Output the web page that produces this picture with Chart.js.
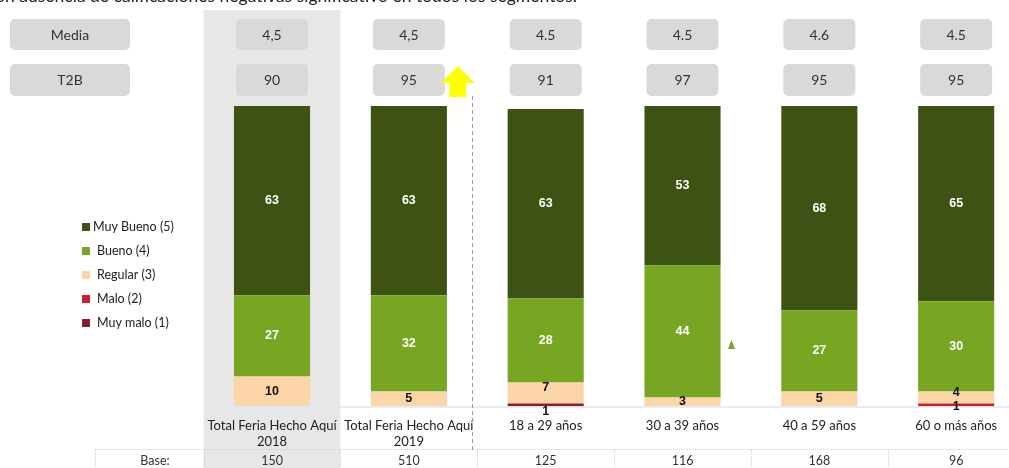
<!DOCTYPE html>
<html><head><meta charset="utf-8">
<script src="https://cdn.jsdelivr.net/npm/chart.js@4"></script>
<style>html,body{margin:0;padding:0;overflow:hidden;background:#fff;width:1009px;height:468px}canvas{display:block}</style>
</head><body>
<canvas id="c" width="1030" height="468" style="width:1030px;height:468px"></canvas>
<script>
const categories = [["Total Feria Hecho Aquí","2018"],["Total Feria Hecho Aquí","2019"],"18 a 29 años","30 a 39 años","40 a 59 años","60 o más años"];
const muyBueno = [63,63,63,53,68,65];
const bueno = [27,32,28,44,27,30];
const regular = [10,5,7,3,5,4];
const malo = [0,0,0,0,0,1];
const muyMalo = [0,0,1,0,0,0];
const media = ["4,5","4,5","4.5","4.5","4.6","4.5"];
const t2b = ["90","95","91","97","95","95"];
const base = ["150","510","125","116","168","96"];
const seriesNames = ["Muy Bueno (5)","Bueno (4)","Regular (3)","Malo (2)","Muy malo (1)"];
const titleText = "Con ausencia de calificaciones negativas significativo en todos los segmentos.";

const COL = {mb:"#3D5213", b:"#77A623", r:"#FCD5A9", m:"#C9202F", mm:"#8E1B2C"};
const FONT = "Lato, 'Open Sans', sans-serif";

function rrect(ctx,x,y,w,h,r){ctx.beginPath();ctx.moveTo(x+r,y);ctx.arcTo(x+w,y,x+w,y+h,r);ctx.arcTo(x+w,y+h,x,y+h,r);ctx.arcTo(x,y+h,x,y,r);ctx.arcTo(x,y,x+w,y,r);ctx.closePath();}

const deco = {
  id:'deco',
  beforeDraw(chart){
    const ctx=chart.ctx, xs=chart.scales.x, ca=chart.chartArea;
    const step = xs.getPixelForValue(1)-xs.getPixelForValue(0);
    ctx.save();
    ctx.fillStyle="#E7E7E7";
    ctx.fillRect(xs.getPixelForValue(0)-step/2,10,step,468);
    ctx.fillStyle="#222";ctx.font="17.5px "+FONT;ctx.textAlign="right";ctx.textBaseline="alphabetic";
    ctx.fillText(titleText,577,2);
    ctx.fillStyle="#D9D9D9";
    rrect(ctx,10,19,120,31,5);ctx.fill();
    rrect(ctx,10,64,120,32,5);ctx.fill();
    ctx.fillStyle="#333";ctx.font="14px "+FONT;ctx.textAlign="center";ctx.textBaseline="middle";
    ctx.fillText("Media",70,35);ctx.fillText("T2B",70,80);
    for(let i=0;i<categories.length;i++){
      const cx=xs.getPixelForValue(i);
      ctx.fillStyle="#D9D9D9";
      rrect(ctx,cx-36,19,72,31,5);ctx.fill();
      rrect(ctx,cx-36,64,72,32,5);ctx.fill();
      ctx.fillStyle="#333";
      ctx.fillText(media[i],cx,35);ctx.fillText(t2b[i],cx,80);
    }
    ctx.strokeStyle="#D0D0D0";ctx.lineWidth=1;ctx.setLineDash([1,1]);
    ctx.beginPath();ctx.moveTo(95,449.5);ctx.lineTo(1009,449.5);ctx.stroke();
    const vx=[95];for(let i=0;i<=categories.length;i++)vx.push(xs.getPixelForValue(i)-step/2);
    vx.forEach(x=>{ctx.beginPath();ctx.moveTo(Math.round(x)+0.5,450);ctx.lineTo(Math.round(x)+0.5,468);ctx.stroke();});
    ctx.setLineDash([]);
    ctx.fillStyle="#333";ctx.font="12.5px "+FONT;
    ctx.fillText("Base:",155,461);
    for(let i=0;i<categories.length;i++)ctx.fillText(base[i],xs.getPixelForValue(i),461);
    const lc=[COL.mb,COL.b,COL.r,COL.m,COL.mm];
    ctx.textAlign="left";ctx.font="12.5px "+FONT;
    seriesNames.forEach((n,k)=>{const y=227+k*24;ctx.fillStyle=lc[k];ctx.fillRect(82,y-4,8,8);ctx.fillStyle="#222";ctx.fillText(n,k==0?93:97,y);});
    ctx.restore();
  },
  afterDatasetsDraw(chart){
    const ctx=chart.ctx, xs=chart.scales.x, ys=chart.scales.y;
    const step = xs.getPixelForValue(1)-xs.getPixelForValue(0);
    ctx.save();
    ctx.strokeStyle="#DCE9F5";ctx.lineWidth=1.5;
    ctx.beginPath();ctx.moveTo(xs.getPixelForValue(0)-step/2,ys.getPixelForValue(0)+0.5);ctx.lineTo(1009,ys.getPixelForValue(0)+0.5);ctx.stroke();
    ctx.font="bold 12.5px 'Liberation Sans', Arial, sans-serif";ctx.textAlign="center";ctx.textBaseline="middle";
    chart.data.datasets.forEach((ds,di)=>{
      const meta=chart.getDatasetMeta(di);
      meta.data.forEach((el,i)=>{
        const v=ds.data[i]; if(!v)return;
        let y=(el.y+el.base)/2;
        if(ds.key==='mm'||ds.key==='m'){y=el.base+(ds.key==='mm'?5:0);}
        if(ds.key==='r'&&(muyMalo[i]||malo[i]))y-=5;
        ctx.fillStyle=(ds.key==='mb'||ds.key==='b')?"#FFFFFF":"#111";
        ctx.fillText(String(v),el.x,y);
      });
    });
    const ax=xs.getPixelForValue(1)+49;
    ctx.fillStyle="#FFFF00";
    ctx.beginPath();ctx.moveTo(ax,66);ctx.lineTo(ax+17,83);ctx.lineTo(ax+8.5,83);ctx.lineTo(ax+8.5,97);ctx.lineTo(ax-8.5,97);ctx.lineTo(ax-8.5,83);ctx.lineTo(ax-17,83);ctx.closePath();ctx.fill();
    const dx=Math.round(xs.getPixelForValue(1)+step/2-5)+0.5;
    ctx.strokeStyle="#9A9A9A";ctx.lineWidth=1;ctx.setLineDash([4,3]);
    ctx.beginPath();ctx.moveTo(dx,96);ctx.lineTo(dx,452);ctx.stroke();ctx.setLineDash([]);
    const tx=xs.getPixelForValue(3)+49;
    ctx.fillStyle=COL.b;
    ctx.beginPath();ctx.moveTo(tx,340);ctx.lineTo(tx+3.5,349);ctx.lineTo(tx-3.5,349);ctx.closePath();ctx.fill();
    ctx.restore();
  }
};

new Chart(document.getElementById('c'),{
  type:'bar',
  data:{labels:categories,datasets:[
    {key:'mm',label:seriesNames[4],data:muyMalo,backgroundColor:COL.mm},
    {key:'m',label:seriesNames[3],data:malo,backgroundColor:COL.m},
    {key:'r',label:seriesNames[2],data:regular,backgroundColor:COL.r},
    {key:'b',label:seriesNames[1],data:bueno,backgroundColor:COL.b},
    {key:'mb',label:seriesNames[0],data:muyBueno,backgroundColor:COL.mb}
  ]},
  options:{
    responsive:false,animation:false,
    layout:{padding:{left:203.6,right:5.4,top:106,bottom:11.5}},
    plugins:{legend:{display:false},tooltip:{enabled:false}},
    datasets:{bar:{categoryPercentage:1,barPercentage:0.556,borderWidth:0}},
    scales:{
      x:{stacked:true,offset:true,grid:{display:false},border:{display:false},
         ticks:{color:"#222",font:{family:FONT,size:13,lineHeight:1.25},padding:3,maxRotation:0,autoSkip:false},
         afterFit:s=>{s.height=50;}},
      y:{stacked:true,display:false,min:0,max:100}
    }
  },
  plugins:[deco]
});
</script>
</body></html>
